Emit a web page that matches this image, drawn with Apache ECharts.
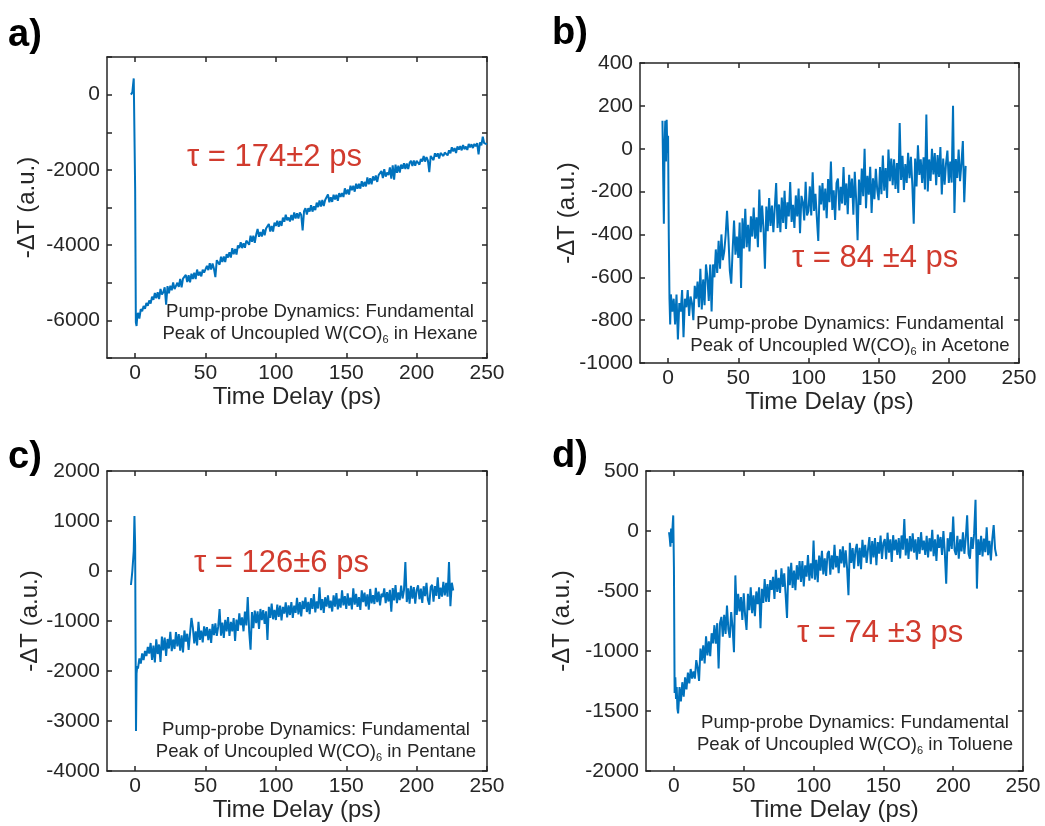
<!DOCTYPE html>
<html>
<head>
<meta charset="utf-8">
<script src="https://cdn.jsdelivr.net/npm/echarts@6/dist/echarts.min.js"></script>
<style>
html,body{margin:0;padding:0;background:#fff;}
#main{width:1045px;height:826px;}
</style>
</head>
<body>
<div id="main"></div>
<script>
// ---------- data ----------
const xTicks = [0, 50, 100, 150, 200, 250];

const yTicksA = [-7000, -6000, -5000, -4000, -3000, -2000, -1000, 0, 1000];
const yLabelsA = [-6000, -4000, -2000, 0];
const yTicksB = [-1000, -800, -600, -400, -200, 0, 200, 400];
const yTicksC = [-4000, -3000, -2000, -1000, 0, 1000, 2000];
const yTicksD = [-2000, -1500, -1000, -500, 0, 500];

const panelLetters = ['a)', 'b)', 'c)', 'd)'];
const tauTexts = ['τ = 174±2 ps', 'τ = 84 ±4 ps', 'τ = 126±6 ps', 'τ = 74 ±3 ps'];
const solvents = ['Hexane', 'Acetone', 'Pentane', 'Toluene'];

// Panel a: Hexane  [time (ps), -ΔT]
const dataA = [
[-3,0],[-2,60],[-1.5,250],[-1,430],[-0.5,380],[0,-2500],[0.5,-6050],[1,-6150],[1.5,-5900],
[2,-5800],[3,-5950],[4,-5700],[5,-5760],[6,-5620],[7,-5690],[8,-5540],[9,-5610],[10,-5470],
[11,-5555],[12,-5370],[13,-5455],[14,-5270],[15,-5415],[16,-5250],[17,-5435],[18,-5165],[19,-5315],[20,-5250],
[21,-5120],[22,-5580],[23,-5090],[24,-5280],[25,-5080],[26,-5200],[27,-4990],[28,-5170],[29,-5210],[30,-5000],
[31,-5110],[32,-4900],[33,-5120],[34,-4890],[35,-4940],[36,-4790],[37,-4980],[38,-4800],[39,-4990],[40,-4760],
[41,-4900],[42,-4730],[43,-4900],[44,-4650],[45,-4810],[46,-4710],[47,-4830],[48,-4650],[49,-4730],[50,-4720],
[51,-4550],[52,-4665],[53,-4480],[54,-4650],[55,-4490],[56,-4630],[57,-4850],[58,-4400],[59,-4410],[60,-4520],
[61,-4310],[62,-4450],[63,-4300],[64,-4450],[65,-4240],[66,-4330],[67,-4190],[68,-4330],[69,-4080],[70,-4240],
[71,-4100],[72,-4250],[73,-4010],[74,-4080],[75,-3920],[76,-4080],[77,-3950],[78,-4070],[79,-3880],[80,-3900],
[81,-3990],[82,-3750],[83,-3910],[84,-3750],[85,-3940],[86,-3720],[87,-3570],[88,-3780],[89,-3650],[90,-3770],
[91,-3580],[92,-3740],[93,-3560],[94,-3610],[95,-3440],[96,-3640],[97,-3490],[98,-3640],[99,-3400],[100,-3490],
[101,-3350],[102,-3510],[103,-3360],[104,-3490],[105,-3270],[106,-3380],[107,-3190],[108,-3340],[109,-3265],[110,-3370],
[111,-3200],[112,-3340],[113,-3130],[114,-3290],[115,-3150],[116,-3290],[117,-3130],[118,-3200],[119,-3610],[120,-3100],
[121,-3020],[122,-3190],[123,-3020],[124,-3110],[125,-2940],[126,-3110],[127,-2970],[128,-3070],[129,-2870],[130,-2990],
[131,-2810],[132,-2975],[133,-2800],[134,-2960],[135,-2800],[136,-2850],[137,-2650],[138,-2860],[139,-2730],[140,-2850],
[141,-2660],[142,-2785],[143,-2660],[144,-2820],[145,-2620],[146,-2720],[147,-2620],[148,-2720],[149,-2490],[150,-2650],
[151,-2520],[152,-2655],[153,-2420],[154,-2540],[155,-2420],[156,-2580],[157,-2370],[158,-2500],[159,-2370],[160,-2500],
[161,-2300],[162,-2445],[163,-2320],[164,-2440],[165,-2200],[166,-2380],[167,-2220],[168,-2385],[169,-2175],[170,-2280],
[171,-2150],[172,-2320],[173,-2140],[174,-2170],[175,-2030],[176,-2220],[177,-1980],[178,-2180],[179,-2070],[180,-2140],
[181,-1935],[182,-2230],[183,-1880],[184,-2260],[185,-1860],[186,-2080],[187,-1890],[188,-2070],[189,-1860],[190,-1970],
[191,-1825],[192,-1975],[193,-1830],[194,-1975],[195,-1815],[196,-1760],[197,-1900],[198,-1750],[199,-1890],[200,-1760],
[201,-1720],[202,-1860],[203,-1710],[204,-1780],[205,-1630],[206,-1780],[207,-1660],[208,-1750],[209,-2060],[210,-1630],
[211,-1620],[212,-1740],[213,-1560],[214,-1650],[215,-1560],[216,-1700],[217,-1550],[218,-1500],[219,-1630],[220,-1540],
[221,-1490],[222,-1615],[223,-1480],[224,-1560],[225,-1400],[226,-1510],[227,-1420],[228,-1550],[229,-1380],[230,-1460],
[231,-1370],[232,-1480],[233,-1340],[234,-1450],[235,-1380],[236,-1470],[237,-1310],[238,-1400],[239,-1320],[240,-1420],
[241,-1310],[242,-1375],[243,-1290],[244,-1590],[245,-1270],[246,-1350],[247,-1120],[248,-1290],[249,-1260],[250,-1320]
];

// Panel b: Acetone
const dataB = [
[-4,130],[-3.5,-120],[-3,-350],[-2.5,20],[-2,130],[-1.5,-60],[-1,135],[-0.5,-20],[0,60],[0.5,-400],
[1,-700],[1.5,-820],[2,-680],[3,-760],[4,-700],[5,-820],[6,-680],[7,-890],[8,-720],[9,-760],
[10,-660],[11,-880],[12,-700],[13,-740],[14,-660],[15,-780],[16,-690],[17,-720],[18,-800],[19,-640],[20,-700],
[21,-620],[22,-740],[23,-560],[24,-750],[25,-610],[26,-730],[27,-540],[28,-600],[29,-710],[30,-540],
[31,-760],[32,-540],[33,-600],[34,-470],[35,-580],[36,-430],[37,-560],[38,-400],[39,-520],[40,-480],
[41,-405],[42,-290],[43,-415],[44,-570],[45,-630],[46,-470],[47,-335],[48,-495],[49,-410],[50,-510],
[51,-345],[52,-650],[53,-325],[54,-465],[55,-280],[56,-460],[57,-355],[58,-480],[59,-315],[60,-410],
[61,-275],[62,-420],[63,-320],[64,-460],[65,-190],[66,-390],[67,-265],[68,-375],[69,-560],[70,-270],
[71,-385],[72,-230],[73,-360],[74,-265],[75,-390],[76,-275],[77,-160],[78,-370],[79,-260],[80,-390],
[81,-228],[82,-346],[83,-196],[84,-374],[85,-250],[86,-316],[87,-155],[88,-342],[89,-262],[90,-370],
[91,-218],[92,-316],[93,-186],[94,-394],[95,-220],[96,-248],[97,-335],[98,-154],[99,-312],[100,-290],
[101,-176],[102,-312],[103,-110],[104,-290],[105,-210],[106,-325],[107,-430],[108,-172],[109,-260],[110,-160],
[111,-288],[112,-186],[113,-324],[114,-142],[115,-250],[116,-60],[117,-286],[118,-194],[119,-332],[120,-160],
[121,-139],[122,-288],[123,-178],[124,-256],[125,-86],[126,-264],[127,-162],[128,-306],[129,-122],[130,-230],
[131,-139],[132,-308],[133,-108],[134,-238],[135,-427],[136,-144],[137,-262],[138,-92],[139,-222],[140,0],
[141,-278],[142,-126],[143,-215],[144,-84],[145,-300],[146,-138],[147,-236],[148,-94],[149,-192],[150,-240],
[151,-86],[152,-212],[153,-32],[154,-196],[155,-90],[156,-230],[157,-4],[158,-152],[159,-46],[160,-170],
[161,-49],[162,-188],[163,-67],[164,-206],[165,120],[166,-146],[167,-33],[168,-192],[169,-72],[170,-160],
[171,-19],[172,-138],[173,-38],[174,-168],[175,-350],[176,-46],[177,-176],[178,16],[179,-122],[180,-50],
[181,-160],[182,-40],[183,-190],[184,160],[185,-200],[186,-50],[187,-150],[188,0],[189,-120],[190,-20],
[191,-170],[192,-30],[193,-132],[194,8],[195,-214],[196,-46],[197,-168],[198,-69],[199,-9],[200,-160],
[201,-60],[202,-158],[203,200],[204,-300],[205,-48],[206,-136],[207,-4],[208,-152],[209,-68],[210,36],
[211,-250],[212,-80]
];

// Panel c: Pentane
const dataC = [
[-3,-280],[-2.5,-150],[-2,0],[-1.5,30],[-1,400],[-0.5,1100],[0,500],[0.3,-1500],[0.6,-3200],[1,-2050],
[1.5,-1900],[2,-1950],[3,-1750],[4,-1850],[5,-1650],[6,-1780],[7,-1600],[8,-1700],[9,-1520],[10,-1650],
[11,-1440],[12,-1780],[13,-1490],[14,-1830],[15,-1365],[16,-1660],[17,-1470],[18,-1820],[19,-1310],[20,-1590],
[21,-1330],[22,-1700],[23,-1360],[24,-1550],[25,-1215],[26,-1605],[27,-1370],[28,-1560],[29,-1220],[30,-1510],
[31,-1262],[32,-1594],[33,-1286],[34,-1628],[35,-1190],[36,-1412],[37,-1256],[38,-1578],[39,-1248],[40,-940],
[41,-1132],[42,-1446],[43,-1206],[44,-1488],[45,-1016],[46,-1378],[47,-1194],[48,-1426],[49,-1109],[50,-1300],
[51,-1122],[52,-1384],[53,-1156],[54,-1438],[55,-1060],[56,-1282],[57,-1046],[58,-1296],[59,-1118],[60,-760],
[61,-1292],[62,-1034],[63,-1336],[64,-978],[65,-1210],[66,-922],[67,-1296],[68,-1016],[69,-1208],[70,-940],
[71,-1401],[72,-972],[73,-1197],[74,-848],[75,-1085],[76,-926],[77,-1206],[78,-811],[79,-1090],[80,-520],
[81,-1201],[82,-1572],[83,-823],[84,-1144],[85,-791],[86,-1045],[87,-808],[88,-1157],[89,-759],[90,-980],
[91,-783],[92,-1056],[93,-806],[94,-1379],[95,-715],[96,-939],[97,-652],[98,-965],[99,-776],[100,-980],
[101,-674],[102,-918],[103,-692],[104,-986],[105,-718],[106,-852],[107,-626],[108,-930],[109,-686],[110,-880],
[111,-624],[112,-938],[113,-692],[114,-836],[115,-536],[116,-870],[117,-622],[118,-908],[119,-596],[120,-760],
[121,-525],[122,-820],[123,-616],[124,-862],[125,-545],[126,-758],[127,-463],[128,-826],[129,-608],[130,-750],
[131,-327],[132,-784],[133,-561],[134,-838],[135,-525],[136,-711],[137,-488],[138,-741],[139,-593],[140,-810],
[141,-487],[142,-714],[143,-441],[144,-768],[145,-555],[146,-731],[147,-389],[148,-686],[149,-503],[150,-760],
[151,-447],[152,-694],[153,-531],[154,-768],[155,-345],[156,-672],[157,-459],[158,-716],[159,-524],[160,-780],
[161,-387],[162,-624],[163,-431],[164,-708],[165,-465],[166,-772],[167,-359],[168,-646],[169,-483],[170,-660],
[171,-337],[172,-624],[173,-411],[174,-688],[175,-455],[176,-522],[177,-349],[178,-642],[179,-422],[180,-610],
[181,-377],[182,-814],[183,-341],[184,-588],[185,-284],[186,-642],[187,-429],[188,-582],[189,-293],[190,-550],
[191,-387],[192,180],[193,-621],[194,-348],[195,-655],[196,-295],[197,-552],[198,-323],[199,-653],[200,-380],
[201,-287],[202,-565],[203,-351],[204,-638],[205,-305],[206,-502],[207,-239],[208,-576],[209,-674],[210,-320],
[211,-277],[212,-614],[213,-301],[214,-498],[215,-125],[216,-558],[217,-335],[218,-513],[219,-217],[220,-490],
[221,-237],[222,-514],[223,180],[224,-702],[225,-236],[226,-390]
];

// Panel d: Toluene
const dataD = [
[-3.5,-10],[-3,-60],[-2.5,-130],[-2,20],[-1.5,-100],[-1,30],[-0.5,130],[0,-300],[0.5,-1350],[1,-1220],
[1.5,-1400],[2,-1300],[2.5,-1480],[3,-1520],[3.5,-1420],[4,-1300],[5,-1420],[6,-1260],[7,-1380],[8,-1220],
[9,-1320],[10,-1180],[11,-1270],[12,-1150],[13,-1230],
[14,-1170],[15,-1230],[16,-1076],[17,-1140],[18,-1250],[19,-980],[20,-1080],
[21,-952],[22,-1104],[23,-878],[24,-1036],[25,-920],[26,-1044],[27,-852],[28,-936],[29,-785],[30,-940],
[31,-768],[32,-1146],[33,-766],[34,-716],[35,-880],[36,-698],[37,-858],[38,-622],[39,-820],[40,-890],
[41,-676],[42,-802],[43,-1010],[44,-370],[45,-700],[46,-524],[47,-670],[48,-550],[49,-742],[50,-520],
[51,-708],[52,-825],[53,-524],[54,-660],[55,-470],[56,-684],[57,-537],[58,-710],[59,-504],[60,-610],
[61,-470],[62,-810],[63,-482],[64,-600],[65,-400],[66,-590],[67,-443],[68,-592],[69,-409],[70,-490],
[71,-382],[72,-566],[73,-324],[74,-508],[75,-390],[76,-516],[77,-311],[78,-466],[79,-352],[80,-530],
[81,-725],[82,-296],[83,-451],[84,-266],[85,-475],[86,-330],[87,-493],[88,-285],[89,-405],[90,-250],
[91,-425],[92,-250],[93,-461],[94,-286],[95,-380],[96,-200],[97,-414],[98,-270],[99,-395],[100,-80],
[101,-405],[102,-240],[103,-426],[104,-204],[105,-330],[106,-165],[107,-361],[108,-228],[109,-374],[110,-190],
[111,-167],[112,-364],[113,-202],[114,-320],[115,-115],[116,-304],[117,-208],[118,-352],[119,-153],[120,-270],
[121,-127],[122,-304],[123,-161],[124,-308],[125,-535],[126,-99],[127,-266],[128,-142],[129,-313],[130,-160],
[131,-107],[132,-294],[133,-141],[134,-318],[135,-73],[136,-221],[137,-115],[138,-266],[139,-152],[140,-50],
[141,-277],[142,-84],[143,-221],[144,-58],[145,-285],[146,-92],[147,-189],[148,-38],[149,-233],[150,-100],
[151,-68],[152,-236],[153,-14],[154,-180],[155,-69],[156,-258],[157,-35],[158,-162],[159,-71],[160,-200],
[161,-59],[162,-228],[163,-37],[164,-156],[165,100],[166,-204],[167,-63],[168,-232],[169,-42],[170,-170],
[171,-20],[172,-180],[173,-70],[174,-240],[175,-50],[176,-190],[177,-10],[178,-160],[179,-80],[180,-200],
[181,-40],[182,-220],[183,-60],[184,-170],[185,10],[186,-210],[187,-70],[188,-250],[189,-30],[190,-140],
[191,-50],[192,-200],[193,0],[194,-180],[195,-440],[196,-60],[197,-170],[198,-10],[199,-150],[200,120],
[201,-160],[202,-200],[203,-40],[204,-230],[205,-70],[206,-170],[207,-10],[208,-190],[209,-60],[210,130],
[211,-190],[212,-230],[213,-50],[214,-150],[215,-20],[216,260],[217,-480],[218,-70],[219,-200],[220,-40],
[221,-212],[222,-63],[223,-176],[224,30],[225,-202],[226,-82],[227,-245],[228,-68],[229,50],[230,-150],[231,-210]
];

// ---------- layout / style ----------
const FONT = '"Liberation Sans", Arial, Helvetica, sans-serif';
const AX = '#262626';
const LINE = '#0072BD';
const RED = '#D13B2E';

const panels = [
  { grid:{left:107, top:57, width:380, height:301}, data:dataA, yMin:-7000, yMax:1000, yTicks:yTicksA, yLabels:yLabelsA, yGap:68, letter:[8,38], tau:[187,157], ann:[320,312] },
  { grid:{left:640, top:63, width:379, height:300}, data:dataB, yMin:-1000, yMax:400, yTicks:yTicksB, yLabels:yTicksB, yGap:61, letter:[552,36], tau:[792,258], ann:[850,324] },
  { grid:{left:107, top:471, width:380, height:300}, data:dataC, yMin:-4000, yMax:2000, yTicks:yTicksC, yLabels:yTicksC, yGap:65, letter:[8,460], tau:[194,563], ann:[316,730] },
  { grid:{left:646, top:471, width:377, height:300}, data:dataD, yMin:-2000, yMax:500, yTicks:yTicksD, yLabels:yTicksD, yGap:72, letter:[552,459], tau:[797,633], ann:[855,723] }
];

const grids = [], xAxes = [], yAxes = [], series = [], graphics = [];
const lineStyle = { color: AX, width: 1.5 };
const plain = v => String(v);

panels.forEach((p, i) => {
  grids.push(Object.assign({ containLabel: false }, p.grid));
  const xBase = {
    gridIndex: i, type: 'value', min: -20, max: 250,
    axisLine: { show: true, onZero: false, lineStyle },
    axisTick: { show: true, inside: true, length: 5, customValues: xTicks, lineStyle },
    splitLine: { show: false }
  };
  xAxes.push(Object.assign({}, xBase, {
    position: 'bottom',
    axisLabel: { show: true, customValues: xTicks, margin: 5, fontSize: 21, color: AX, fontFamily: FONT, formatter: plain },
    name: 'Time Delay (ps)', nameLocation: 'middle', nameGap: 27, nameMoveOverlap: false,
    nameTextStyle: { fontSize: 24, color: AX, fontFamily: FONT }
  }));
  xAxes.push(Object.assign({}, xBase, { position: 'top', axisLabel: { show: false } }));
  const yBase = {
    gridIndex: i, type: 'value', min: p.yMin, max: p.yMax,
    axisLine: { show: true, onZero: false, lineStyle },
    axisTick: { show: true, inside: true, length: 5, customValues: p.yTicks, lineStyle },
    splitLine: { show: false }
  };
  yAxes.push(Object.assign({}, yBase, {
    position: 'left',
    axisLabel: { show: true, customValues: p.yLabels, margin: 7, fontSize: 21, color: AX, fontFamily: FONT, formatter: plain },
    name: '-ΔT (a.u.)', nameLocation: 'middle', nameGap: p.yGap, nameMoveOverlap: false,
    nameTextStyle: { fontSize: 24, color: AX, fontFamily: FONT }
  }));
  yAxes.push(Object.assign({}, yBase, { position: 'right', axisLabel: { show: false } }));
  series.push({
    type: 'line', xAxisIndex: 2 * i, yAxisIndex: 2 * i, data: p.data,
    showSymbol: false, symbol: 'none', clip: true,
    lineStyle: { color: LINE, width: 2 }, z: 2
  });
  graphics.push({
    type: 'text', left: p.letter[0], top: p.letter[1] - 21,
    style: { text: panelLetters[i], font: 'bold 38px ' + FONT, fill: '#000' }
  });
  graphics.push({
    type: 'text', x: p.tau[0], y: p.tau[1],
    style: { text: tauTexts[i], font: '31px ' + FONT, fill: RED, textAlign: 'left', textVerticalAlign: 'middle' }
  });
  graphics.push({
    type: 'text', x: p.ann[0], y: p.ann[1],
    style: { text: 'Pump-probe Dynamics: Fundamental', font: '18.6px ' + FONT, fill: AX, textAlign: 'center', textVerticalAlign: 'middle' }
  });
  graphics.push({
    type: 'text', x: p.ann[0], y: p.ann[1] + 22,
    style: {
      text: '{n|Peak of Uncoupled W(CO)}{s|6}{n| in ' + solvents[i] + '}',
      textAlign: 'center', textVerticalAlign: 'middle',
      rich: {
        n: { fontSize: 18.6, fontFamily: FONT, fill: AX, color: AX, lineHeight: 22 },
        s: { fontSize: 11, fontFamily: FONT, fill: AX, color: AX, lineHeight: 11, verticalAlign: 'bottom', padding: [6, 0, 0, 0] }
      }
    }
  });
});

const chart = echarts.init(document.getElementById('main'), null, { renderer: 'canvas' });
chart.setOption({
  animation: false,
  backgroundColor: '#fff',
  grid: grids, xAxis: xAxes, yAxis: yAxes, series: series, graphic: graphics
});
</script>
</body>
</html>
